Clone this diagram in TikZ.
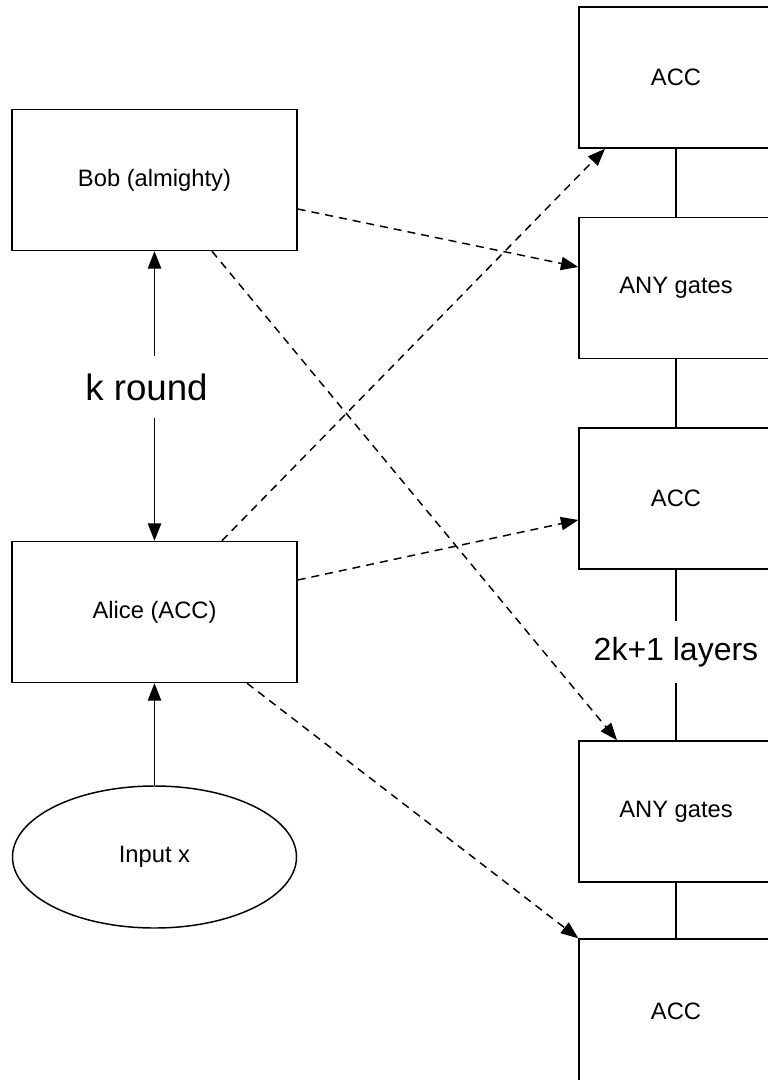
\documentclass[tikz,border=0pt]{standalone}
\usepackage{fontspec}
\setmainfont{Liberation Sans}
\usetikzlibrary{arrows.meta,positioning,calc,shapes.geometric}

\begin{document}
\begin{tikzpicture}[x=.75pt,y=-.75pt,>={Triangle[length=13pt,width=10pt]},line width=1.1pt,
  party/.style={draw,minimum width=213.75pt,minimum height=105.75pt,font=\fontsize{17.8}{21}\selectfont},
  layer/.style={draw,minimum width=145.5pt,minimum height=105.75pt,font=\fontsize{17.8}{21}\selectfont},
  msg/.style={->,dash pattern=on 6pt off 4.5pt},
  biglabel/.style={fill=white,inner xsep=1pt,inner ysep=12pt,text height=17.5pt,text depth=5pt}]
  \useasboundingbox (0,0) rectangle (767,1080);
  % the two players and the input
  \node[party] (bob) at (154.5,180) {Bob (almighty)};
  \node[party] (alice) at (154.5,612) {Alice (ACC)};
  \node[draw,ellipse,minimum width=213pt,minimum height=106.5pt,
        font=\fontsize{17.8}{21}\selectfont] (input) at (154.5,857) {Input x};
  % the circuit, one layer per round
  \node[layer] (acc1) at (676,77.5) {ACC};
  \node[layer] (any1) at (676,288) {ANY gates};
  \node[layer] (acc2) at (676,498.5) {ACC};
  \node[layer] (any2) at (676,811.5) {ANY gates};
  \node[layer,minimum height=108.75pt] (acc3) at (676,1011.5) {ACC};
  \draw[<->] (bob) -- node[biglabel,pos=.469,xshift=-6pt,inner ysep=13pt,text height=20pt,text depth=0pt,
        font=\fontsize{27.5}{30}\selectfont] (rounds) {k round} (alice);
  \draw[->] (input) -- (alice);
  \draw (acc1) -- (any1);
  \draw (any1) -- (acc2);
  \draw (acc2) -- node[biglabel,pos=.483,font=\fontsize{24}{28}\selectfont] (depth) {2k+1 layers} (any2);
  \draw (any2) -- (acc3);
  % messages
  \draw[msg] ([yshift=-21.75pt]bob.east) -- ([yshift=15.75pt]any1.west);
  \draw[msg] ([xshift=43.1pt]bob.south) -- ([xshift=-44.25pt]any2.north);
  \draw[msg] ([xshift=50.6pt]alice.north) -- ([xshift=-53.25pt]acc1.south);
  \draw[msg] ([yshift=24pt]alice.east) -- ([yshift=-16.1pt]acc2.west);
  \draw[msg] ([xshift=69.4pt]alice.south) -- (acc3.north west);
\end{tikzpicture}
\end{document}
